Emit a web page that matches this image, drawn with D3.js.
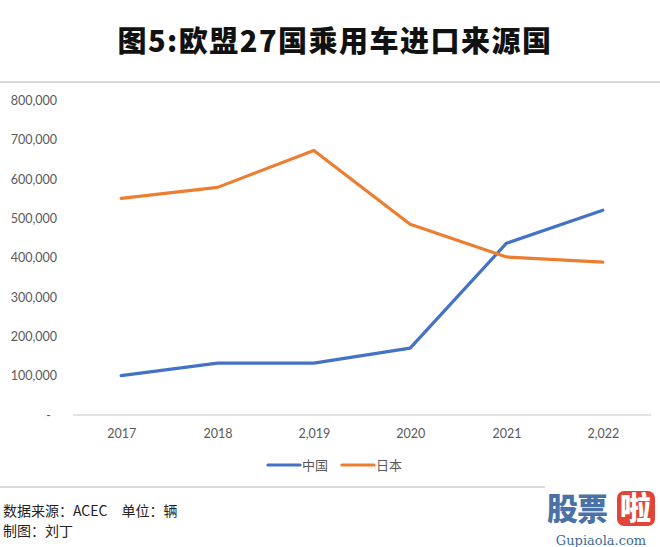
<!DOCTYPE html>
<html>
<head>
<meta charset="utf-8">
<script src="https://cdn.jsdelivr.net/npm/d3@7"></script>
<style>
  html, body { margin: 0; padding: 0; background: #fff; }
  svg { display: block; }
</style>
</head>
<body>
<svg id="chart" width="660" height="547"></svg>
<script>
const years = ["2017", "2018", "2019", "2020", "2021", "2022"];
const yearLabels = ["2017", "2018", "2,019", "2020", "2021", "2,022"];
const china = [100000, 132000, 132000, 170000, 437000, 521000];
const japan = [551000, 579000, 673000, 485000, 402000, 389000];
const yTicks = [0, 100000, 200000, 300000, 400000, 500000, 600000, 700000, 800000];
const seriesNames = ["中国", "日本"];
const seriesColors = ["#4472C4", "#ED7D31"];

(function () {
const svg = d3.select("#chart");
const W = 660;
const pLeft = 73, pRight = 651, pTop = 100.5, pBottom = 415;

const x = d3.scalePoint().domain(years).range([pLeft, pRight]).padding(0.5);
const y = d3.scaleLinear().domain([0, 800000]).range([pBottom, pTop]);

const CJK = "'Noto Sans CJK SC', 'Noto Sans', sans-serif";
const LAT = "Lato, 'Open Sans', sans-serif";

// title
svg.append("text").attr("x", 335).attr("y", 52)
  .attr("text-anchor", "middle")
  .attr("font-family", CJK).attr("font-weight", 900).attr("font-size", 29)
  .attr("letter-spacing", 1.5)
  .attr("fill", "#111").text("图5:欧盟27国乘用车进口来源国");

// separator lines
svg.append("line").attr("x1", 0).attr("x2", W).attr("y1", 82).attr("y2", 82)
  .attr("stroke", "#d9d9d9").attr("stroke-width", 2);
svg.append("line").attr("x1", 0).attr("x2", 545).attr("y1", 487).attr("y2", 487)
  .attr("stroke", "#d9d9d9").attr("stroke-width", 2);

// y axis labels
const yAxis = d3.axisLeft(y).tickValues(yTicks)
  .tickFormat(d => d === 0 ? "-" : d3.format(",")(d))
  .tickSize(0).tickPadding(0);
const gy = svg.append("g").attr("transform", "translate(57,0)").call(yAxis);
gy.select(".domain").remove();
gy.selectAll("text").attr("font-family", LAT).attr("font-size", 12.5).attr("fill", "#595959");
gy.selectAll(".tick").filter(d => d === 0).select("text").attr("dx", -6);

// x axis
const xAxis = d3.axisBottom(x).tickFormat((d, i) => yearLabels[i]).tickSize(0).tickPadding(14);
const gx = svg.append("g").attr("transform", `translate(0,${pBottom})`).call(xAxis);
gx.select(".domain").attr("d", `M${pLeft},0H${pRight}`).attr("stroke", "#d9d9d9").attr("stroke-width", 1.5);
gx.selectAll("text").attr("font-family", LAT).attr("font-size", 12.5).attr("fill", "#595959");

// lines
const line = d3.line().x((d, i) => x(years[i])).y(d => y(d));
[china, japan].forEach((s, k) => {
  svg.append("path").datum(s).attr("d", line)
    .attr("fill", "none").attr("stroke", seriesColors[k])
    .attr("stroke-width", 3.2).attr("stroke-linejoin", "round").attr("stroke-linecap", "round");
});

// legend
const legendX = [268, 342];
legendX.forEach((lx, k) => {
  const g = svg.append("g").attr("transform", `translate(${lx},465)`);
  g.append("line").attr("x1", 0).attr("x2", 32).attr("y1", 0).attr("y2", 0)
    .attr("stroke", seriesColors[k]).attr("stroke-width", 3.2).attr("stroke-linecap", "round");
  g.append("text").attr("x", 34).attr("y", 5)
    .attr("font-family", CJK).attr("font-size", 13).attr("fill", "#595959").text(seriesNames[k]);
});

// footer
svg.append("text").attr("x", 3).attr("y", 516).attr("font-family", CJK).attr("font-size", 14).attr("fill", "#222")
  .text("数据来源：ACEC　单位：辆");
svg.append("text").attr("x", 3).attr("y", 536).attr("font-family", CJK).attr("font-size", 14).attr("fill", "#222")
  .text("制图：刘丁");

// watermark logo
const lg = svg.append("g");
lg.append("text").attr("x", 547).attr("y", 520).attr("font-family", CJK).attr("font-weight", 900)
  .attr("font-size", 31).attr("fill", "#4a72a8").attr("letter-spacing", -1).text("股票");
lg.append("rect").attr("x", 617).attr("y", 491).attr("width", 38).attr("height", 35).attr("rx", 7)
  .attr("fill", "#e0453a");
lg.append("text").attr("x", 620).attr("y", 519).attr("font-family", CJK).attr("font-weight", 900)
  .attr("font-size", 31).attr("fill", "#fff").text("啦");
lg.append("text").attr("x", 601).attr("y", 545).attr("text-anchor", "middle")
  .attr("font-family", "'DejaVu Serif', 'Liberation Serif', serif").attr("font-size", 13)
  .attr("fill", "#3d6a9a").text("Gupiaola.com");
})();
</script>
</body>
</html>
